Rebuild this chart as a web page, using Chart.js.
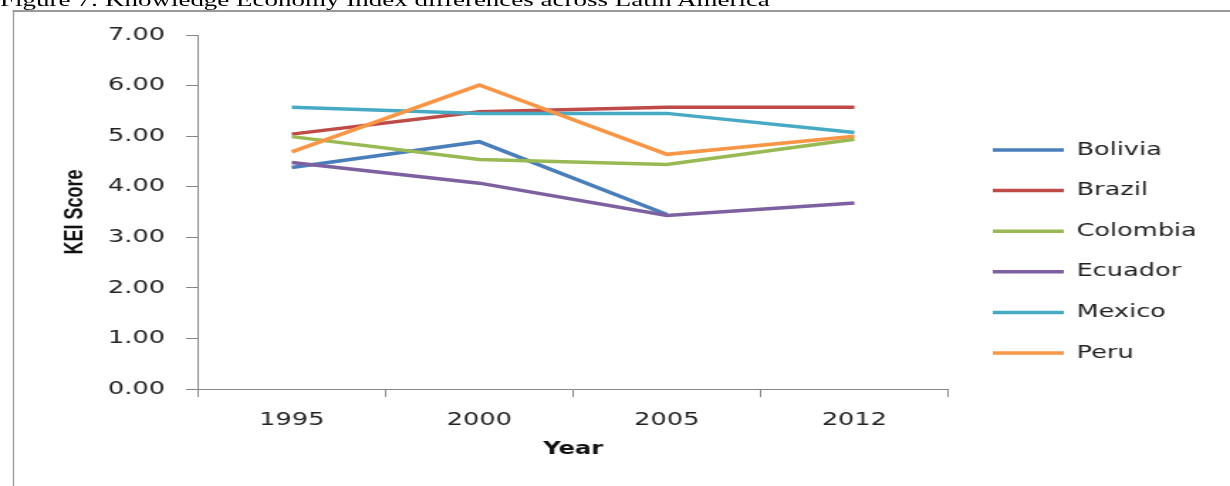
<!DOCTYPE html>
<html lang="en">
  <head>
    <meta charset="UTF-8" />
    <title>KEI Score - Latin America</title>
    <script src="https://cdn.jsdelivr.net/npm/chart.js@4.4.1/dist/chart.umd.min.js"></script>
    <style>
      body { margin: 0; overflow: hidden; background: #fff; }
      /* the source figure is stretched sideways, so the page is drawn narrow and scaled */
      #page {
        position: absolute; left: 0; top: 0;
        width: 866px; height: 486px;
        transform: scaleX(1.4203); transform-origin: 0 0;
      }
      #fig-title {
        position: absolute; left: 0; top: -10px;
        font: 19px/19px 'Liberation Serif', 'Times New Roman', serif;
        color: #000; white-space: nowrap;
      }
      #frame {
        position: absolute; left: 8.5px; top: 10px;
        width: 900px; height: 500px;
        border-top: 2px solid #9a9a9a; border-left: 1.5px solid #9a9a9a;
      }
      #chart { position: absolute; left: 0; top: 0; }
    </style>
  </head>
  <body>
    <div id="page">
      <div id="fig-title">Figure 7: Knowledge Economy Index differences across Latin America</div>
      <div id="frame"></div>
      <canvas id="chart" width="866" height="486"></canvas>
    </div>
    <script>
      const years = ['1995', '2000', '2005', '2012']
      const countries = ['Bolivia', 'Brazil', 'Colombia', 'Ecuador', 'Mexico', 'Peru']
      const colors = ['#4A7EBB', '#BE4B48', '#98B954', '#7D60A0', '#46AAC5', '#F79646']

      const bolivia = [4.38, 4.89, 3.45, null] // 2012 not visible (under Ecuador)
      const brazil = [5.04, 5.48, 5.57, 5.57]
      const colombia = [4.99, 4.54, 4.44, 4.94]
      const ecuador = [4.48, 4.07, 3.43, 3.68]
      const mexico = [5.57, 5.45, 5.45, 5.07]
      const peru = [4.69, 6.01, 4.64, 5.0]
      const series = [bolivia, brazil, colombia, ecuador, mexico, peru]

      const yTicks = [0, 1, 2, 3, 4, 5, 6, 7]

      Chart.defaults.font.family = "'DejaVu Sans', Verdana, sans-serif"
      Chart.defaults.color = '#222'

      // put the legend where the original has it
      const placeLegend = {
        id: 'placeLegend',
        afterLayout(chart) {
          const lg = chart.legend
          lg.left = 676.4
          lg.right = 866
          lg.top = 118.4
          lg.bottom = 486
          lg.width = lg.right - lg.left
          lg.height = lg.bottom - lg.top
        },
      }

      const axisColor = '#868686'

      const ctx = document.getElementById('chart').getContext('2d')
      const myChart = new Chart(ctx, {
        type: 'line',
        data: {
          labels: years,
          datasets: countries.map((name, i) => ({
            label: name,
            data: series[i],
            borderColor: colors[i],
            backgroundColor: colors[i],
            borderWidth: 3.5,
            pointRadius: 0,
            tension: 0,
            order: countries.length - i, // later series on top, like Excel
          })),
        },
        options: {
          responsive: false,
          animation: false,
          layout: { padding: { left: 41, right: 198.4, top: 35, bottom: 0 } },
          plugins: {
            tooltip: { enabled: false },
            legend: {
              position: 'chartArea',
              align: 'start',
              reverse: true,
              labels: {
                usePointStyle: true,
                pointStyle: 'line',
                pointStyleWidth: 50,
                padding: 22.6,
                color: '#222',
                font: { size: 18 },
              },
            },
          },
          scales: {
            x: {
              offset: true,
              afterFit: (s) => { s.height = 97 },
              grid: {
                offset: true,
                drawOnChartArea: false,
                tickLength: 8,
                color: axisColor,
              },
              border: { color: axisColor, width: 1 },
              ticks: { padding: 13, font: { size: 18 }, color: '#222' },
              title: {
                display: true,
                text: 'Year',
                color: '#111',
                font: { size: 17, weight: 'bold' },
                padding: { top: 0, bottom: 26 },
              },
            },
            y: {
              min: 0,
              max: 7,
              afterFit: (s) => { s.width = 98.4 },
              afterBuildTicks: (s) => { s.ticks = yTicks.map((v) => ({ value: v })) },
              grid: {
                drawOnChartArea: false,
                tickLength: 8.5,
                color: axisColor,
              },
              border: { color: axisColor, width: 1 },
              ticks: {
                padding: 14.7,
                font: { size: 18 },
                color: '#222',
                callback: (v) => Number(v).toFixed(2),
              },
              title: {
                display: true,
                text: 'KEI Score',
                color: '#111',
                font: { family: "'Liberation Sans Narrow', 'Liberation Sans', sans-serif", size: 18, weight: 'bold' },
                padding: { top: 1.5, bottom: 0 },
              },
            },
          },
        },
        plugins: [placeLegend],
      })
    </script>
  </body>
</html>
